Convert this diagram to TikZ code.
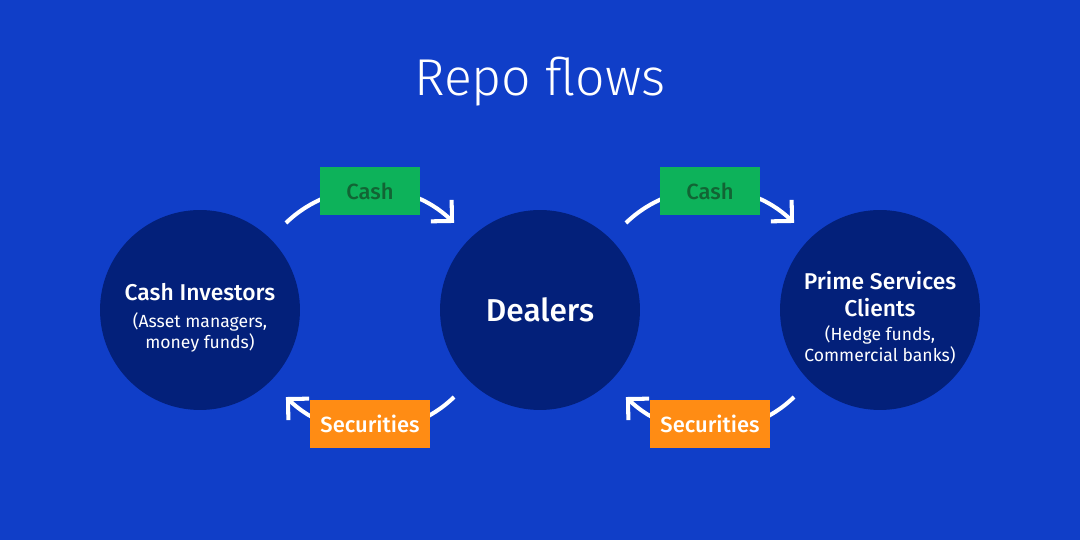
\documentclass[tikz,border=0pt]{standalone}
\usepackage{fontspec}
\setmainfont{Fira Sans}
\newfontfamily\lightfont{Fira Sans Light}
\newfontfamily\mediumfont{Fira Sans Medium}
\usetikzlibrary{arrows.meta}

\definecolor{bgblue}{RGB}{16,62,200}
\definecolor{navy}{RGB}{3,32,122}
\definecolor{cashgreen}{RGB}{13,178,90}
\definecolor{cashtext}{RGB}{18,100,52}
\definecolor{secorange}{RGB}{255,140,20}

\newcommand{\headfont}{\mediumfont\fontsize{13}{16}\selectfont}
\newcommand{\notefont}{\normalfont\fontsize{10}{11.5}\selectfont}

\begin{document}
\begin{tikzpicture}
    [x=0.02cm,y=0.02cm,
      party/.style={circle,fill=navy,minimum size=4cm,inner sep=0pt},
      partytext/.style={text=white,align=center,inner sep=0pt},
      tagbox/.style={rectangle,minimum height=0.95cm,inner sep=0pt,
        font=\mediumfont\fontsize{12.5}{14}\selectfont},
      cashbox/.style={tagbox,fill=cashgreen,text=cashtext,minimum width=2cm},
      secbox/.style={tagbox,fill=secorange,text=white,minimum width=2.42cm},
      flow/.style={draw=white,line width=2.3pt,
        -{Straight Barb[length=8.5pt,width=17pt]}}
    ]
    \fill [bgblue] (0,0) rectangle (1080,540);

    \node [font=\lightfont\fontsize{29.5}{34}\selectfont,text=white]
      (title) at (540,458) {Repo flows};

    % the three parties
    \node [party] (investors) at (200,230) {};
    \node [party] (dealers) at (540,230) {};
    \node [party] (clients) at (880,230) {};

    \node [partytext] (investorsText) at ([yshift=-4.5pt]investors.center) {%
      \headfont Cash Investors\\[3pt]
      \notefont (Asset managers,\\ \notefont money funds)};
    \node [partytext,font=\mediumfont\fontsize{18}{20}\selectfont]
      (dealersText) at (dealers.center) {Dealers};
    \node [partytext] (clientsText) at ([yshift=-4.3pt]clients.center) {%
      \headfont Prime Services\\[3.5pt] \headfont Clients\\[1.5pt]
      \notefont (Hedge funds,\\ \notefont Commercial banks)};

    % centres of the flow arcs
    \coordinate (leftgap) at (370,230);
    \coordinate (rightgap) at (710,230);

    \draw [flow] (leftgap) ++(134:121) arc [start angle=134,end angle=46,radius=121];
    \draw [flow] (leftgap) ++(-46:121) arc [start angle=-46,end angle=-134,radius=121];
    \draw [flow] (rightgap) ++(134:121) arc [start angle=134,end angle=46,radius=121];
    \draw [flow] (rightgap) ++(-46:121) arc [start angle=-46,end angle=-134,radius=121];

    \node [cashbox] (cashL) at (370,349) {Cash};
    \node [secbox] (secL) at (370,116) {Securities};
    \node [cashbox] (cashR) at (710,349) {Cash};
    \node [secbox] (secR) at (710,116) {Securities};
  \end{tikzpicture}
\end{document}
